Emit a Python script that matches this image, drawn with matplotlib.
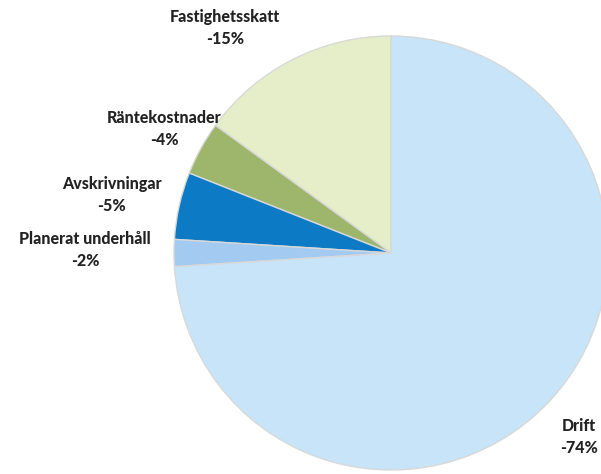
import matplotlib
matplotlib.use("Agg")
import matplotlib.pyplot as plt

categories = ["Fastighetsskatt", "Räntekostnader", "Avskrivningar", "Planerat underhåll", "Drift"]
values = [15, 4, 5, 2, 74]
value_labels = ["-15%", "-4%", "-5%", "-2%", "-74%"]
colors = ["#e6eec9", "#9db66c", "#0c7ac4", "#a3cbf1", "#c7e4f9"]

# layout (pixel coordinates of label block centres, image space)
label_pos = [(225, 28), (164, 129), (112, 195), (85, 250), (579, 437)]

W, H = 601, 474
fig = plt.figure(figsize=(W / 100, H / 100), dpi=100)
ax = fig.add_axes([0, 0, 1, 1])

cx, cy, r = 391, H - 253, 217
wedges, _ = ax.pie(values, colors=colors, startangle=90, counterclock=True,
                   center=(cx, cy), radius=r, frame=True,
                   wedgeprops=dict(edgecolor="#d8d8d8", linewidth=1.0))
ax.set_xlim(0, W)
ax.set_ylim(0, H)
ax.set_aspect("equal")
ax.axis("off")

for name, vl, (px, py) in zip(categories, value_labels, label_pos):
    ax.text(px, H - py, f"{name}\n{vl}", ha="center", va="center",
            fontsize=11.5, fontweight="black", family="Lato", color="#222222",
            linespacing=1.4)

fig.savefig("out.png", dpi=100)
